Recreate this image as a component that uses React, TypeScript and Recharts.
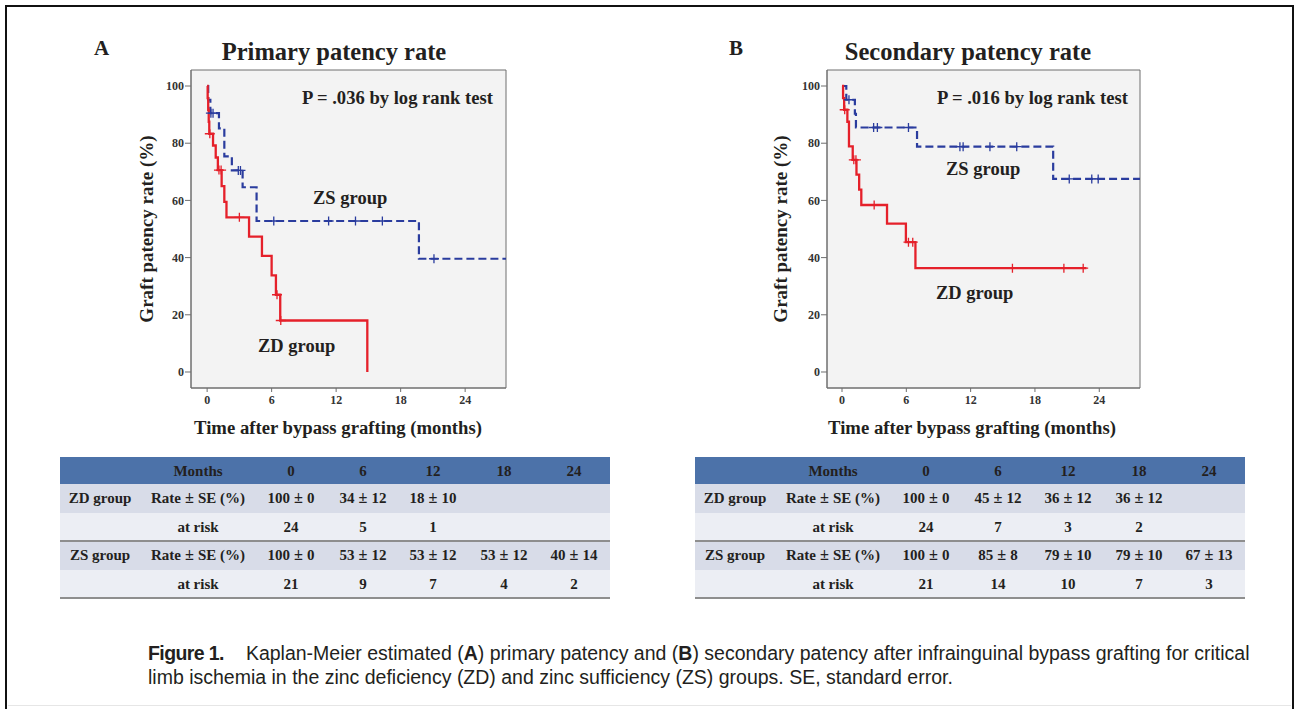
import React from 'react';
import { ComposedChart, Line, XAxis, YAxis, ReferenceArea } from 'recharts';

// ---------- data ----------
const monthTicks = [0, 6, 12, 18, 24];
const rateTicks = [0, 20, 40, 60, 80, 100];

// Primary patency – ZD group (time in months, survival %)
const primaryZDSteps: [number, number][] = [
  [0, 100], [0.05, 95.8], [0.1, 91.7], [0.15, 87.5], [0.2, 83.3], [0.55, 79.2], [0.8, 75.0],
  [1.0, 70.6], [1.35, 65.0], [1.6, 59.5], [1.8, 54.1], [3.9, 47.3], [5.1, 40.6], [6.0, 33.8],
  [6.4, 27.0], [6.8, 18.0], [14.9, 0],
];
const primaryZDCensor = [0.25, 1.1, 1.3, 3.0, 6.5, 6.85];

// Primary patency – ZS group
const primaryZSSteps: [number, number][] = [
  [0, 100], [0.1, 95.2], [0.3, 90.5], [1.1, 85.2], [1.6, 75.4], [2.3, 70.5], [3.3, 64.6],
  [4.6, 52.8], [19.7, 39.6], [27.8, 39.6],
];
const primaryZSCensor = [0.35, 0.55, 2.9, 3.1, 6.2, 11.3, 13.8, 16.3, 21.1];

// Secondary patency – ZD group
const secondaryZDSteps: [number, number][] = [
  [0, 100], [0.1, 95.8], [0.2, 91.7], [0.5, 87.5], [0.65, 78.9], [1.0, 74.2], [1.35, 69.0],
  [1.6, 63.8], [1.8, 58.4], [4.2, 51.9], [5.96, 45.4], [6.85, 36.3], [22.8, 36.3],
];
const secondaryZDCensor = [0.25, 1.1, 1.3, 3.0, 6.2, 6.6, 15.9, 20.7, 22.5];

// Secondary patency – ZS group
const secondaryZSSteps: [number, number][] = [
  [0, 100], [0.4, 95.2], [1.2, 90.3], [1.3, 85.5], [7.0, 78.8], [19.7, 67.5], [27.8, 67.5],
];
const secondaryZSCensor = [0.65, 2.95, 3.3, 6.2, 11.0, 11.3, 13.8, 16.3, 21.2, 23.3, 23.9];

// Tables
const tableMonths = ['0', '6', '12', '18', '24'];
const primaryZDRate = ['100 ± 0', '34 ± 12', '18 ± 10', '', ''];
const primaryZDRisk = ['24', '5', '1', '', ''];
const primaryZSRate = ['100 ± 0', '53 ± 12', '53 ± 12', '53 ± 12', '40 ± 14'];
const primaryZSRisk = ['21', '9', '7', '4', '2'];
const secondaryZDRate = ['100 ± 0', '45 ± 12', '36 ± 12', '36 ± 12', ''];
const secondaryZDRisk = ['24', '7', '3', '2', ''];
const secondaryZSRate = ['100 ± 0', '85 ± 8', '79 ± 10', '79 ± 10', '67 ± 13'];
const secondaryZSRisk = ['21', '14', '10', '7', '3'];

// ---------- helpers ----------
type Pt = { t: number; s: number; c: number };
function buildSeries(steps: [number, number][], censor: number[]): Pt[] {
  const valueAt = (t: number) => {
    let v = steps[0][1];
    for (const [x, y] of steps) if (x <= t) v = y;
    return v;
  };
  const pts: Pt[] = steps.map(([t, s]) => ({ t, s, c: 0 }));
  censor.forEach((t) => pts.push({ t, s: valueAt(t), c: 1 }));
  pts.sort((a, b) => a.t - b.t || b.s - a.s);
  return pts;
}

const SERIF = '"Liberation Serif", "Times New Roman", serif';
const SANS = '"Liberation Sans", Arial, Helvetica, sans-serif';
const RED = '#e5202a';
const BLUE = '#2a3c9e';

const censorDot = (color: string) => (props: any) => {
  const { cx, cy, payload, index } = props;
  if (!payload || !payload.c || cx == null || cy == null) return <g key={`d${index}`} />;
  return (
    <path
      key={`d${index}`}
      d={`M${cx - 5},${cy}H${cx + 5}M${cx},${cy - 4.5}V${cy + 4.5}`}
      stroke={color}
      strokeWidth={1.3}
      fill="none"
    />
  );
};

const tickStyle = { fill: '#333', fontSize: 12, fontFamily: SERIF, fontWeight: 700 };

function KMChart({ zd, zs, xMin, rightMargin }: { zd: Pt[]; zs: Pt[]; xMin: number; rightMargin: number }) {
  const xMax = 27.8;
  const yMin = -5.6;
  const yMax = 105.6;
  return (
    <ComposedChart width={400} height={420} margin={{ top: 40, right: rightMargin, left: 26, bottom: 32 }}>
      <XAxis
        type="number"
        dataKey="t"
        domain={[xMin, xMax]}
        ticks={monthTicks}
        allowDataOverflow
        height={30}
        tick={tickStyle}
        tickSize={4}
        tickMargin={3}
        axisLine={{ stroke: '#6e6e6e' }}
        tickLine={{ stroke: '#6e6e6e' }}
      />
      <YAxis
        type="number"
        domain={[yMin, yMax]}
        ticks={rateTicks}
        allowDataOverflow
        width={45}
        tick={tickStyle}
        tickSize={6}
        tickMargin={1}
        axisLine={{ stroke: '#6e6e6e' }}
        tickLine={{ stroke: '#6e6e6e' }}
      />
      <ReferenceArea x1={xMin} x2={xMax} y1={yMin} y2={yMax} fill="#f3f3f3" fillOpacity={1} stroke="#6e6e6e" strokeWidth={1} />
      <Line
        data={zs}
        dataKey="s"
        type="stepAfter"
        stroke={BLUE}
        strokeWidth={2.2}
        strokeDasharray="8 4"
        dot={censorDot(BLUE)}
        activeDot={false}
        isAnimationActive={false}
      />
      <Line
        data={zd}
        dataKey="s"
        type="stepAfter"
        stroke={RED}
        strokeWidth={2.3}
        dot={censorDot(RED)}
        activeDot={false}
        isAnimationActive={false}
      />
    </ComposedChart>
  );
}

function Txt({ x, y, size, children, anchor = 'left', rotate = false, weight = 700, font = SERIF }: any) {
  const tx = anchor === 'center' ? '-50%' : '0';
  return (
    <div
      style={{
        position: 'absolute',
        left: x,
        top: y,
        fontFamily: font,
        fontWeight: weight,
        fontSize: size,
        lineHeight: 1,
        whiteSpace: 'nowrap',
        color: '#231f20',
        transform: rotate ? 'translate(-50%,-50%) rotate(-90deg)' : `translate(${tx},-50%)`,
      }}
    >
      {children}
    </div>
  );
}

const colCenters = [231, 303, 373, 444, 514];

function PM({ text }: { text: string }) {
  const parts = text.split(' ± ');
  if (parts.length < 2) return <>{text}</>;
  return (
    <>
      {parts[0]}
      <span style={{ margin: '0 4px', fontSize: '1.08em' }}>±</span>
      {parts[1]}
    </>
  );
}

function PatencyTable({ left, zdRate, zdRisk, zsRate, zsRisk }: any) {
  const rowH = [27, 28.5, 28.5, 28.5, 28.5];
  const tops = [0, 27, 55.5, 84, 112.5];
  const bgs = ['#4c72a9', '#d8dce8', '#eceef4', '#d8dce8', '#eceef4'];
  const rows = [
    { g: '', l: 'Months', v: tableMonths },
    { g: 'ZD group', l: 'Rate ± SE (%)', v: zdRate },
    { g: '', l: 'at risk', v: zdRisk },
    { g: 'ZS group', l: 'Rate ± SE (%)', v: zsRate },
    { g: '', l: 'at risk', v: zsRisk },
  ];
  const cell = (cx: number, text: string, key: string) => (
    <div
      key={key}
      style={{
        position: 'absolute',
        left: cx,
        top: '50%',
        transform: 'translate(-50%,-50%)',
        whiteSpace: 'nowrap',
        lineHeight: 1,
      }}
    >
      <PM text={text} />
    </div>
  );
  return (
    <div
      style={{
        position: 'absolute',
        left,
        top: 457,
        width: 550,
        height: 141,
        fontFamily: SERIF,
        fontWeight: 700,
        fontSize: 15,
        color: '#231f20',
      }}
    >
      {rows.map((r, i) => (
        <div
          key={i}
          style={{ position: 'absolute', left: 0, top: tops[i], width: 550, height: rowH[i], background: bgs[i] }}
        >
          {r.g ? cell(40, r.g, 'g') : null}
          {cell(138, r.l, 'l')}
          {r.v.map((v: string, j: number) => (v ? cell(colCenters[j], v, 'v' + j) : null))}
        </div>
      ))}
      <div style={{ position: 'absolute', left: 0, top: 83, width: 550, height: 2, background: '#8e8e8e' }} />
      <div style={{ position: 'absolute', left: 0, top: 140, width: 550, height: 2, background: '#8e8e8e' }} />
    </div>
  );
}

export default function App() {
  const pZD = buildSeries(primaryZDSteps, primaryZDCensor);
  const pZS = buildSeries(primaryZSSteps, primaryZSCensor);
  const sZD = buildSeries(secondaryZDSteps, secondaryZDCensor);
  const sZS = buildSeries(secondaryZSSteps, secondaryZSCensor);

  return (
    <div style={{ position: 'absolute', left: 0, top: 0, width: 1297, height: 709, background: '#fff', overflow: 'hidden' }}>
      {/* frame */}
      <div
        style={{
          position: 'absolute',
          left: 5,
          top: 5,
          width: 1285,
          height: 720,
          borderTop: '2.5px solid #111',
          borderLeft: '2.5px solid #111',
          borderRight: '2.5px solid #111',
        }}
      />
      <div style={{ position: 'absolute', left: 8, top: 705, width: 1283, height: 1, background: '#e6e6e6' }} />

      {/* Panel A */}
      <div style={{ position: 'absolute', left: 120, top: 30 }}>
        <KMChart zd={pZD} zs={pZS} xMin={-1.5} rightMargin={14} />
      </div>
      <Txt x={94} y={48} size={21}>A</Txt>
      <Txt x={334} y={52} size={24.5} anchor="center">Primary patency rate</Txt>
      <Txt x={146} y={229} size={19} rotate>Graft patency rate (%)</Txt>
      <Txt x={338} y={428} size={18.7} anchor="center">Time after bypass grafting (months)</Txt>
      <Txt x={302} y={98} size={18.6}>P = .036 by log rank test</Txt>
      <Txt x={313} y={198} size={18.5}>ZS group</Txt>
      <Txt x={258} y={346} size={18.5}>ZD group</Txt>

      {/* Panel B */}
      <div style={{ position: 'absolute', left: 756, top: 30 }}>
        <KMChart zd={sZD} zs={sZS} xMin={-1.4} rightMargin={16} />
      </div>
      <Txt x={729} y={48} size={21}>B</Txt>
      <Txt x={968} y={52} size={24.5} anchor="center">Secondary patency rate</Txt>
      <Txt x={780} y={229} size={19} rotate>Graft patency rate (%)</Txt>
      <Txt x={972} y={428} size={18.7} anchor="center">Time after bypass grafting (months)</Txt>
      <Txt x={937} y={98} size={18.6}>P = .016 by log rank test</Txt>
      <Txt x={946} y={169} size={18.5}>ZS group</Txt>
      <Txt x={936} y={293} size={18.5}>ZD group</Txt>

      {/* Tables */}
      <PatencyTable left={60} zdRate={primaryZDRate} zdRisk={primaryZDRisk} zsRate={primaryZSRate} zsRisk={primaryZSRisk} />
      <PatencyTable left={695} zdRate={secondaryZDRate} zdRisk={secondaryZDRisk} zsRate={secondaryZSRate} zsRisk={secondaryZSRisk} />

      {/* Caption */}
      <div
        style={{
          position: 'absolute',
          left: 148,
          top: 641,
          width: 1140,
          fontFamily: SANS,
          fontSize: 19.5,
          lineHeight: '24px',
          color: '#231f20',
          fontWeight: 400,
        }}
      >
        <div style={{ whiteSpace: 'nowrap' }}>
          <span style={{ fontWeight: 700, letterSpacing: -0.6 }}>Figure 1.</span>
          <span style={{ display: 'inline-block', width: 22 }} />
          Kaplan-Meier estimated (<b>A</b>) primary patency and (<b>B</b>) secondary patency after infrainguinal bypass grafting for critical
        </div>
        <div style={{ whiteSpace: 'nowrap' }}>
          limb ischemia in the zinc deficiency (ZD) and zinc sufficiency (ZS) groups. SE, standard error.
        </div>
      </div>
    </div>
  );
}
